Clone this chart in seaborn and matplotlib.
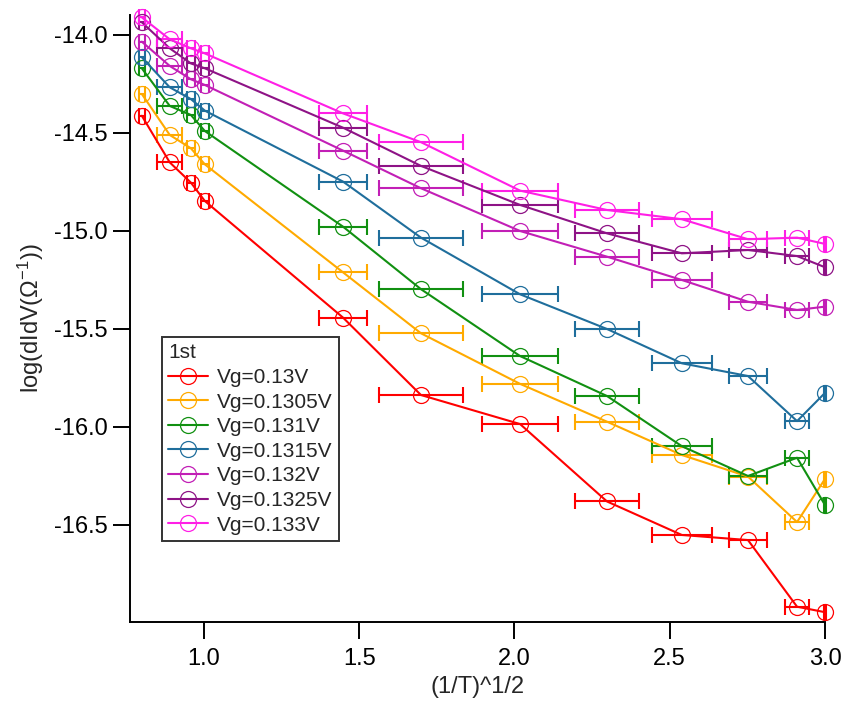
import numpy as np
import pandas as pd
import matplotlib
matplotlib.use("Agg")
import matplotlib.pyplot as plt
import seaborn as sns

# (1/T)^1/2 positions and their horizontal uncertainty
x_vals = [0.800, 0.890, 0.958, 1.003, 1.448, 1.699, 2.018, 2.298, 2.539, 2.752, 2.910, 3.000]
x_err = [0.010, 0.040, 0.012, 0.012, 0.077, 0.134, 0.121, 0.103, 0.097, 0.061, 0.040, 0.004]

labels = ["Vg=0.13V", "Vg=0.1305V", "Vg=0.131V", "Vg=0.1315V",
          "Vg=0.132V", "Vg=0.1325V", "Vg=0.133V"]
colors = ["#ff0000", "#ffaa00", "#119011", "#1f6e9c",
          "#c21fb6", "#8e1386", "#ff1fe6"]

vg_0130 = [-14.412, -14.650, -14.753, -14.847, -15.442, -15.837, -15.985, -16.380, -16.551, -16.577, -16.917, -16.945]
vg_1305 = [-14.301, -14.510, -14.578, -14.660, -15.211, -15.522, -15.780, -15.973, -16.143, -16.253, -16.485, -16.265]
vg_0131 = [-14.170, -14.362, -14.408, -14.490, -14.978, -15.297, -15.638, -15.842, -16.098, -16.250, -16.157, -16.398]
vg_1315 = [-14.114, -14.267, -14.327, -14.386, -14.748, -15.034, -15.323, -15.500, -15.675, -15.740, -15.970, -15.826]
vg_0132 = [-14.034, -14.158, -14.226, -14.255, -14.590, -14.782, -15.000, -15.131, -15.250, -15.361, -15.403, -15.386]
vg_1325 = [-13.935, -14.068, -14.145, -14.170, -14.473, -14.668, -14.867, -15.012, -15.114, -15.097, -15.128, -15.185]
vg_0133 = [-13.910, -14.022, -14.068, -14.094, -14.400, -14.547, -14.794, -14.893, -14.940, -15.042, -15.034, -15.066]

series = [vg_0130, vg_1305, vg_0131, vg_1315, vg_0132, vg_1325, vg_0133]

frames = []
for lab, ys in zip(labels, series):
    frames.append(pd.DataFrame({"x": x_vals, "y": ys, "xerr": x_err, "Vg": lab}))
df = pd.concat(frames, ignore_index=True)

sns.set_theme(style="ticks")
plt.rcParams["font.family"] = ["Liberation Sans", "DejaVu Sans"]
plt.rcParams["axes.unicode_minus"] = False
plt.rcParams["mathtext.default"] = "regular"

FS_AX = 17
FS_LEG = 15

fig = plt.figure(figsize=(8.48, 7.04), dpi=100)
ax = fig.add_axes([130 / 848, 1 - 622 / 704, (825 - 130) / 848, (622 - 15) / 704])

palette = dict(zip(labels, colors))
sns.lineplot(data=df, x="x", y="y", hue="Vg", hue_order=labels, palette=palette,
             estimator=None, sort=True, marker="o", markersize=11.5,
             markerfacecolor="none", linewidth=1.5, legend=False, ax=ax,
             clip_on=False, zorder=3)

# open circles edged in the series colour
for line, c in zip(ax.lines, colors):
    line.set_markeredgecolor(c)
    line.set_markerfacecolor("none")
    line.set_markeredgewidth(0.9)

for lab, c in zip(labels, colors):
    sub = df[df["Vg"] == lab]
    ax.errorbar(sub["x"], sub["y"], xerr=sub["xerr"], fmt="none", ecolor=c,
                elinewidth=1.5, capsize=6, capthick=1.5, clip_on=False, zorder=2)

ax.set_xlim(0.762, 3.0)
ax.set_ylim(-16.995, -13.898)
ax.set_xticks([1.0, 1.5, 2.0, 2.5, 3.0])
ax.set_yticks([-14.0, -14.5, -15.0, -15.5, -16.0, -16.5])
ax.set_xticklabels([f"{v:.1f}" for v in ax.get_xticks()])
ax.set_yticklabels([f"{v:.1f}" for v in ax.get_yticks()])
ax.tick_params(axis="both", direction="out", length=12, width=1.4,
               labelsize=FS_AX, colors="black")
ax.tick_params(axis="x", pad=7)
ax.tick_params(axis="y", pad=4)
for side in ("left", "bottom"):
    ax.spines[side].set_linewidth(1.4)
    ax.spines[side].set_color("black")
sns.despine(ax=ax)

ax.set_xlabel("(1/T)^1/2", fontsize=FS_AX, labelpad=4)
ax.set_ylabel("log(dIdV(Ω$^{-1}$))", fontsize=FS_AX, labelpad=6)

handles = [plt.Line2D([], [], color=c, lw=1.5, marker="o", markersize=11.5,
                      markerfacecolor="none", markeredgecolor=c, markeredgewidth=0.9)
           for c in colors]
leg = ax.legend(handles, labels, title="1st", loc="upper left",
                bbox_to_anchor=((162 - 130) / 695, (622 - 337) / 607),
                borderaxespad=0, fontsize=FS_LEG, title_fontsize=FS_LEG,
                frameon=True, fancybox=False, edgecolor="black",
                handlelength=1.9, handletextpad=0.45, labelspacing=0.27,
                borderpad=0.3)
leg._legend_box.align = "left"
leg.get_frame().set_linewidth(1.4)

fig.savefig("out.png", dpi=100)
